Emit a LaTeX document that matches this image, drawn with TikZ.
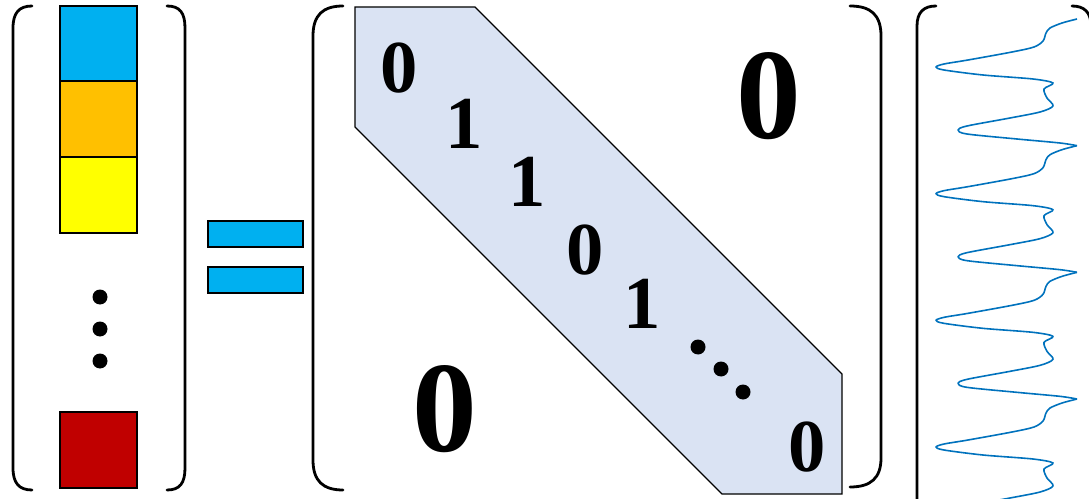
\documentclass[tikz,border=0pt]{standalone}
\usepackage{fontspec}
\setmainfont{Liberation Serif}
\definecolor{cblue}{HTML}{00B0F0}
\definecolor{corange}{HTML}{FFC000}
\definecolor{cyellow}{HTML}{FFFF00}
\definecolor{cred}{HTML}{C00000}
\definecolor{bandfill}{HTML}{DAE3F3}
\definecolor{wavecol}{HTML}{0072BD}
\tikzset{
  bracket/.style={line width=2.1pt, line cap=round},
  cell/.style={draw=black, line width=1.3pt},
  eqbar/.style={draw=black, line width=1.4pt, fill=cblue},
  band/.style={draw=black, line width=1pt, fill=bandfill},
  digit/.style={inner sep=0pt, font=\fontsize{56}{60}\selectfont\bfseries},
  bigdigit/.style={inner sep=0pt, font=\fontsize{97}{100}\selectfont\bfseries},
  wave/.style={draw=wavecol, line width=1.2pt, line join=round},
}
\begin{document}
\begin{tikzpicture}[x=0.75pt,y=-0.75pt]
\useasboundingbox (0,0) rectangle (1089,499);
% left vector brackets
\draw[bracket] (32,6) .. controls (19,6) and (13,13) .. (13,28) -- (13,468) .. controls (13,483) and (19,490) .. (32,490);
\draw[bracket] (167,6) .. controls (180,6) and (185,13) .. (185,28) -- (185,468) .. controls (185,483) and (180,490) .. (167,490);
% colour cells
\draw[cell, fill=cblue] (60,6) rectangle (137,81);
\draw[cell, fill=corange] (60,81) rectangle (137,157);
\draw[cell, fill=cyellow] (60,157) rectangle (137,233);
\draw[cell, fill=cred] (60,412) rectangle (137,488);
\fill (100,297) circle (7.5);
\fill (100,329) circle (7.5);
\fill (100,361) circle (7.5);
% equals sign
\draw[eqbar] (208,221) rectangle (303,247);
\draw[eqbar] (208,267) rectangle (303,293);
% matrix brackets
\draw[bracket] (343,6) .. controls (323,6) and (313,15) .. (313,36) -- (313,460) .. controls (313,481) and (323,490) .. (343,490);
\draw[bracket] (850,6) .. controls (871,6) and (881,15) .. (881,36) -- (881,458) .. controls (881,478) and (871,487) .. (850,487);
% diagonal band
\draw[band] (355,7) -- (475,7) -- (842,374) -- (842,494) -- (722,494) -- (355,127) -- cycle;
\node[digit] (d1) at (399,68) {0};
\node[digit] (d2) at (464,124) {1};
\node[digit] (d3) at (527,182) {1};
\node[digit] (d4) at (585,250) {0};
\node[digit] (d5) at (642,304) {1};
\node[digit] (d6) at (807,447) {0};
\fill (698,347) circle (7.5);
\fill (721,369) circle (7.5);
\fill (743,392) circle (7.5);
\node[bigdigit] (zu) at (769,96) {0};
\node[bigdigit] (zl) at (445,409) {0};
% right vector brackets
\draw[bracket] (936,6) .. controls (924,6) and (917,12) .. (917,26) -- (917,520);
\draw[bracket] (1072,6) .. controls (1084,6) and (1091,12) .. (1091,26) -- (1091,520);
% waveform
\foreach \k [evaluate=\k as \b using 19+126.67*\k] in {0,1,2,3}{
  \draw[wave] plot[smooth, tension=0.5] coordinates {
    (1077,\b) (1062,{\b+4}) (1050,{\b+9}) (1046,{\b+14}) (1043,{\b+22})
    (1034,{\b+28}) (1012,{\b+33}) (968,{\b+41}) (944,{\b+45}) (936,{\b+48})
    (944,{\b+51}) (983,{\b+56}) (1033,{\b+60}) (1053,{\b+64}) (1044,{\b+70})
    (1047,{\b+79}) (1053,{\b+87}) (1040,{\b+93}) (1010,{\b+99}) (967,{\b+107})
    (958,{\b+111}) (967,{\b+115}) (1017,{\b+120}) (1060,{\b+124}) (1077,{\b+126.67})
  };
}
\end{tikzpicture}
\end{document}
